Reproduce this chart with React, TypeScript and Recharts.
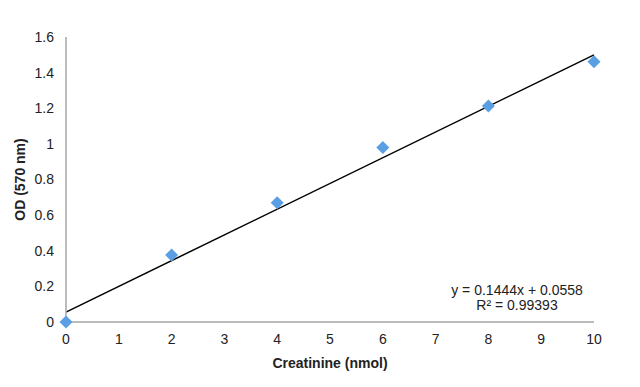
import React from 'react';
import { ComposedChart, XAxis, YAxis, Scatter, Line } from 'recharts';

const creatinine = [0, 2, 4, 6, 8, 10];
const od = [0.0, 0.376, 0.67, 0.979, 1.213, 1.461];
const trendX = [0, 10];
const trendY = [0.0558, 1.4998];
const xTicks = [0, 1, 2, 3, 4, 5, 6, 7, 8, 9, 10];
const yTicks = [0, 0.2, 0.4, 0.6, 0.8, 1, 1.2, 1.4, 1.6];
const equationText = 'y = 0.1444x + 0.0558';
const r2Text = 'R² = 0.99393';

const points = creatinine.map((x, i) => ({ x, y: od[i] }));
const trend = trendX.map((x, i) => ({ x, t: trendY[i] }));

const FONT = '"Liberation Sans", Arial, sans-serif';

const Diamond = (props: any) => {
  const { cx, cy } = props;
  const r = 6.5;
  return (
    <polygon
      points={`${cx},${cy - r} ${cx + r},${cy} ${cx},${cy + r} ${cx - r},${cy}`}
      fill="#5a9fe3"
    />
  );
};

export default function App() {
  return (
    <div style={{ position: 'absolute', left: 0, top: 0, width: 640, height: 387, background: '#fff', fontFamily: FONT }}>
      <ComposedChart width={640} height={387} margin={{ top: 37, right: 46, bottom: 15, left: 0 }}>
        <XAxis
          dataKey="x"
          type="number"
          domain={[0, 10]}
          ticks={xTicks}
          interval={0}
          tickLine={false}
          tickSize={0}
          tickMargin={12}
          axisLine={{ stroke: '#a6a6a6', strokeWidth: 1.5 }}
          tick={{ fill: '#222', fontSize: 14, fontFamily: FONT }}
          height={50}
          allowDuplicatedCategory={false}
          label={{ value: 'Creatinine (nmol)', position: 'insideBottom', offset: 4, style: { fontWeight: 'bold', fontSize: 14, fill: '#222', fontFamily: FONT } }}
        />
        <YAxis
          type="number"
          domain={[0, 1.6]}
          ticks={yTicks}
          interval={0}
          tickLine={false}
          tickSize={0}
          tickMargin={12}
          axisLine={{ stroke: '#a6a6a6', strokeWidth: 1.5 }}
          tick={{ fill: '#222', fontSize: 14, fontFamily: FONT }}
          width={66}
          label={{ value: 'OD (570 nm)', angle: -90, position: 'insideLeft', offset: 20, style: { textAnchor: 'middle', fontWeight: 'bold', fontSize: 14, fill: '#222', fontFamily: FONT } }}
        />
        <Line
          data={trend}
          dataKey="t"
          type="linear"
          stroke="#000"
          strokeWidth={1.5}
          dot={false}
          activeDot={false}
          isAnimationActive={false}
        />
        <Scatter data={points} dataKey="y" shape={<Diamond />} isAnimationActive={false} />
      </ComposedChart>
      <div style={{ position: 'absolute', left: 417, top: 283, width: 200, textAlign: 'center', fontSize: 14, lineHeight: '15px', color: '#222' }}>
        <div>{equationText}</div>
        <div>{r2Text}</div>
      </div>
    </div>
  );
}
